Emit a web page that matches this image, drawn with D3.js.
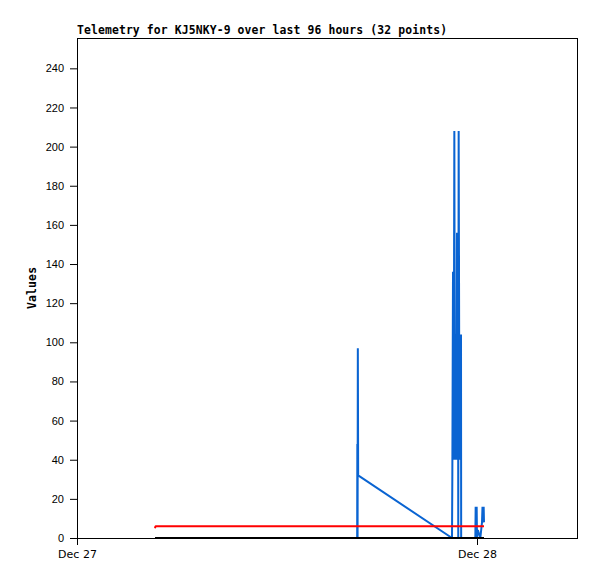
<!DOCTYPE html>
<html>
<head>
<meta charset="utf-8">
<script src="https://cdn.jsdelivr.net/npm/d3@7"></script>
<style>
  body { margin: 0; background: #fff; }
</style>
</head>
<body>
<svg id="chart" width="597" height="579"></svg>
<script>
// telemetry data, hours after Dec 27 00:00 (UTC)
// one entry per packet, same index in each channel
const hours = [4.68, 4.71,
    16.81, 16.82, 16.835, 16.85, 16.87,
    22.50, 22.52, 22.56, 22.60, 22.64, 22.66, 22.68, 22.70, 22.72, 22.74, 22.76,
    22.80, 22.82, 22.84, 22.87, 22.875, 22.90, 22.93, 22.96, 22.99, 23.02, 23.04, 23.05,
    23.90, 23.92, 23.95, 23.98, 24.00, 24.05, 24.20, 24.30, 24.33, 24.36, 24.40, 24.42];
const channelBlue = [0, 0,
    0, 48, 0, 97, 32,
    0, 32, 136, 40, 208, 104, 40, 104, 40, 104, 40,
    156, 104, 40, 52, 0, 208, 104, 40, 104, 40, 104, 0,
    0, 16, 8, 16, 0, 4, 0, 8, 16, 8, 16, 8];
const channelRed = [5, 6,
    6, 6, 6, 6, 6,
    6, 6, 6, 6, 6, 6, 6, 6, 6, 6, 6,
    6, 6, 6, 6, 6, 6, 6, 6, 6, 6, 6, 6,
    6, 6, 6, 6, 6, 6, 6, 6, 6, 6, 6, 6];
const channelBlack = [0, 0,
    0, 0, 0, 0, 0,
    0, 0, 0, 0, 0, 0, 0, 0, 0, 0, 0,
    0, 0, 0, 0, 0, 0, 0, 0, 0, 0, 0, 0,
    0, 0, 0, 0, 0, 0, 0, 0, 0, 0, 0, 0];
const yTicks = [0, 20, 40, 60, 80, 100, 120, 140, 160, 180, 200, 220, 240];
const xTickLabels = ["Dec 27", "Dec 28"];
const title = "Telemetry for KJ5NKY-9 over last 96 hours (32 points)";

let svg = d3.select("#chart"),
    margin = {left: 77, top: 38, right: 20, bottom: 41},
    width = +svg.attr("width") - margin.left - margin.right,
    height = +svg.attr("height") - margin.top - margin.bottom;

const start = Date.UTC(2023, 11, 27);
const hourMs = 3600 * 1000;

let x = d3.scaleUtc()
    .domain([new Date(start), new Date(start + 30 * hourMs)])
    .range([margin.left, margin.left + width]);

let y = d3.scaleLinear()
    .domain([0, 255.5])
    .range([margin.top + height, margin.top]);

drawAxes();
drawSeries(channelBlue, "#0a64d2");
drawSeries(channelRed, "#ff0000");
drawSeries(channelBlack, "#000000");
drawLabels();

function drawAxes() {
    // left axis, labels in sans
    let yAxis = svg.append("g")
        .attr("transform", "translate(" + margin.left + ",0)")
        .call(d3.axisLeft(y).tickValues(yTicks).tickSize(7).tickPadding(6));
    yAxis.select(".domain").remove();
    yAxis.selectAll("text")
        .style("font-family", "Liberation Sans, Arial, sans-serif")
        .style("font-size", "11px")
        .attr("fill", "#000");

    // bottom axis with day ticks
    const dayTicks = xTickLabels.map((d, i) => new Date(start + i * 24 * hourMs));
    let xAxis = svg.append("g")
        .attr("transform", "translate(0," + (margin.top + height) + ")")
        .call(d3.axisBottom(x).tickValues(dayTicks).tickSize(7).tickPadding(5)
            .tickFormat((d, i) => xTickLabels[i]));
    xAxis.select(".domain").remove();
    xAxis.selectAll("text")
        .style("font-family", "DejaVu Sans, sans-serif")
        .style("font-size", "11px")
        .attr("fill", "#000");

    // frame round the plot
    svg.append("rect")
        .attr("x", margin.left + 0.5)
        .attr("y", margin.top + 0.5)
        .attr("width", width)
        .attr("height", height)
        .style("fill", "none")
        .style("stroke", "#000")
        .style("stroke-width", "1px");
}

function drawSeries(values, color) {
    let line = d3.line()
        .x(function(d, i) { return x(new Date(start + hours[i] * hourMs)); })
        .y(function(d) { return y(d); });

    svg.append("path")
        .datum(values)
        .attr("d", line)
        .style("fill", "none")
        .style("stroke", color)
        .style("stroke-width", "2px")
        .style("stroke-linejoin", "bevel");
}

function drawLabels() {
    svg.append("text")
        .attr("x", margin.left)
        .attr("y", 34)
        .attr("textLength", 370)
        .attr("lengthAdjust", "spacing")
        .text(title)
        .style("font-family", "DejaVu Sans Mono, monospace")
        .style("font-weight", "bold")
        .style("font-size", "11.4px");

    svg.append("text")
        .attr("transform", "translate(36," + (margin.top + height * 0.5) + ") rotate(-90)")
        .attr("text-anchor", "middle")
        .attr("textLength", 42)
        .attr("lengthAdjust", "spacing")
        .text("Values")
        .style("font-family", "DejaVu Sans Mono, monospace")
        .style("font-weight", "bold")
        .style("font-size", "11.4px");
}
</script>
</body>
</html>
